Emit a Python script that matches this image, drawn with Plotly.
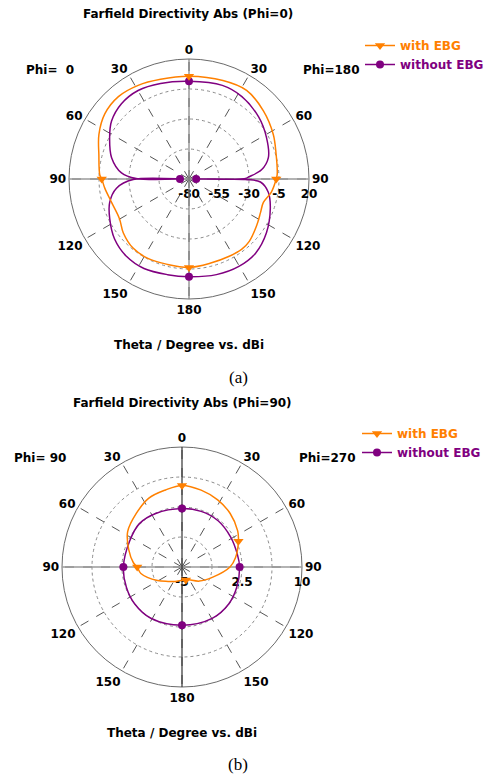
import numpy as np
import plotly.graph_objects as go

# ---------------- data (angles: clockwise from top; 0..180 right half, 180..360 left half) ----------
angle_ticks = [0, 30, 60, 90, 120, 150, 180, 210, 240, 270, 300, 330]
angle_labels = ["0", "30", "60", "90", "120", "150", "180", "150", "120", "90", "60", "30"]

# (a) Phi = 0 cut
a_ebg_theta = [0, 19, 33, 47.5, 62, 74, 87, 90, 99, 107.5, 115, 124.7, 136, 143, 152.5, 166, 180,
               194.2, 207.4, 219, 230.6, 240.3, 253.2, 263.8, 270, 272.6, 285.1, 296.4, 307.7,
               319.4, 331.5, 344.1, 360]
a_ebg_dbi = [5.6, 6.8, 8.1, 4.1, -0.5, -4.5, -6.4, -7.3, -10.5, -15.0, -14.2, -11.5, -7.7, -6.8,
             -7.4, -7.6, -6.3, -6.6, -5.5, -5.9, -9.2, -13.3, -12.6, -9.4, -7.3, -5.6, -2.2, 3.8,
             8.7, 10.4, 8.8, 6.4, 5.6]
a_noebg_theta = [0, 19.6, 32.7, 48.3, 61.7, 74.9, 82.8, 88, 89.4, 90, 90.6, 92.4, 99.5, 110, 124.8,
                 138.1, 150.3, 164, 180, 192.7, 206.7, 219, 231.1, 243.4, 253.6, 262.8, 269.4, 270,
                 270.6, 275.2, 285.4, 297.7, 306.8, 318.1, 330.1, 343.4, 360]
a_noebg_dbi = [1.4, 2.8, 1.6, -2.3, -6.7, -11.5, -19.1, -30.2, -33.0, -74.0, -33.0, -20.4, -13.0,
               -7.9, -1.4, 3.1, 3.9, 2.9, 1.4, 1.7, 3.5, 2.9, -0.3, -6.1, -11.1, -19.1, -33.5,
               -72.5, -36.0, -23.5, -13.1, -5.3, 0.6, 4.3, 5.1, 3.1, 1.4]
a_ebg_marker_theta = [0, 90, 180, 270]
a_noebg_marker_theta = [0, 90, 180, 270]
a_rtick_vals = [-80, -55, -30, -5, 20]
a_rtick_text = ["-80", "-55", "-30", "-5", "20"]

# (b) Phi = 90 cut
b_ebg_theta = [0, 14, 28, 42, 57, 65.5, 80, 90, 109, 129, 158, 180, 206, 224, 241, 261, 270, 275,
               288, 303, 319.5, 334.3, 347.9, 360]
b_ebg_dbi = [5.2, 4.9, 4.5, 4.0, 3.3, 2.75, 1.8, 1.0, -1.0, -2.2, -3.3, -3.35, -3.0, -2.5, -1.5,
             0.2, 0.6, 1.1, 2.0, 3.1, 3.8, 4.55, 4.85, 5.2]
b_noebg_theta = [0, 19, 38, 58.5, 77.4, 90, 110.6, 128.4, 149.6, 180, 211.3, 232.2, 250, 270,
                 296.1, 315.2, 333.8, 360]
b_noebg_dbi = [2.3, 2.35, 2.33, 2.14, 2.1, 2.2, 2.3, 2.45, 2.45, 2.28, 2.5, 2.5, 2.4, 2.33, 2.3,
               2.6, 2.45, 2.3]
b_ebg_marker_theta = [0, 65.5, 163, 270]
b_noebg_marker_theta = [0, 90, 180, 270]
b_rtick_vals = [-5, -1.25, 2.5, 6.25, 10]
b_rtick_text = ["-5", "", "2.5", "", "10"]

ORANGE = "#FF8000"
PURPLE = "#800080"
W, H = 489, 774
FONT = "DejaVu Sans"

fig = go.Figure()


def px_x(x):
    return x / W


def px_y(y):
    return 1 - y / H


def add_cut(subplot, legend, theta_e, dbi_e, theta_n, dbi_n, mk_e, mk_n, rmin, rmax, vcolor):
    # solid axis lines
    fig.add_trace(go.Scatterpolar(r=[rmax, rmax], theta=[90, 270], mode="lines",
                                  line=dict(color="#9a9a9a", width=1.6), showlegend=False,
                                  hoverinfo="skip", subplot=subplot))
    fig.add_trace(go.Scatterpolar(r=[rmax, rmax], theta=[0, 180], mode="lines",
                                  line=dict(color=vcolor, width=1.2), showlegend=False,
                                  hoverinfo="skip", subplot=subplot))
    # curves
    fig.add_trace(go.Scatterpolar(r=dbi_n, theta=theta_n, mode="lines",
                                  line=dict(color=PURPLE, width=1.5, shape="spline", smoothing=1.0),
                                  showlegend=False, hoverinfo="skip", subplot=subplot))
    fig.add_trace(go.Scatterpolar(r=dbi_e, theta=theta_e, mode="lines",
                                  line=dict(color=ORANGE, width=1.5, shape="spline", smoothing=1.0),
                                  showlegend=False, hoverinfo="skip", subplot=subplot))
    # markers placed on the curves
    fig.add_trace(go.Scatterpolar(r=np.interp(mk_n, theta_n, dbi_n), theta=mk_n, mode="markers",
                                  marker=dict(color=PURPLE, size=8, symbol="circle"),
                                  showlegend=False, hoverinfo="skip", subplot=subplot))
    fig.add_trace(go.Scatterpolar(r=np.interp(mk_e, theta_e, dbi_e), theta=mk_e, mode="markers",
                                  marker=dict(color=ORANGE, size=9, symbol="triangle-down"),
                                  showlegend=False, hoverinfo="skip", subplot=subplot))
    # legend entries
    fig.add_trace(go.Scatterpolar(r=[None], theta=[None], mode="lines+markers",
                                  name="<b><span style='color:%s'>with EBG</span></b>" % ORANGE,
                                  line=dict(color=ORANGE, width=1.5),
                                  marker=dict(color=ORANGE, size=9, symbol="triangle-down"),
                                  legend=legend, legendrank=1, subplot=subplot))
    fig.add_trace(go.Scatterpolar(r=[None], theta=[None], mode="lines+markers",
                                  name="<b><span style='color:%s'>without EBG</span></b>" % PURPLE,
                                  line=dict(color=PURPLE, width=1.5),
                                  marker=dict(color=PURPLE, size=8, symbol="circle"),
                                  legend=legend, legendrank=2, subplot=subplot))


add_cut("polar", "legend", a_ebg_theta, a_ebg_dbi, a_noebg_theta, a_noebg_dbi,
        a_ebg_marker_theta, a_noebg_marker_theta, -80, 20, "#808080")
add_cut("polar2", "legend2", b_ebg_theta, b_ebg_dbi, b_noebg_theta, b_noebg_dbi,
        b_ebg_marker_theta, b_noebg_marker_theta, -5, 10, "#333333")


def polar_layout(cx, cy, rad, rng, tvals, ttext):
    return dict(
        domain=dict(x=[px_x(cx - rad), px_x(cx + rad)], y=[px_y(cy + rad), px_y(cy - rad)]),
        bgcolor="white",
        angularaxis=dict(rotation=90, direction="clockwise", tickmode="array",
                         tickvals=angle_ticks, ticktext=angle_labels, ticks="",
                         tickfont=dict(family=FONT, size=12, color="black", weight="bold"),
                         showgrid=True, gridcolor="#555555", gridwidth=0.8, griddash="dash",
                         showline=True, linecolor="#6a6a6a", linewidth=1, layer="below traces"),
        radialaxis=dict(range=rng, tickmode="array", tickvals=tvals, ticktext=ttext,
                        ticks="outside", ticklen=4, tickcolor="rgba(0,0,0,0)",
                        angle=0, side="clockwise", showline=False,
                        tickfont=dict(family=FONT, size=12, color="black", weight="bold"),
                        showgrid=True, gridcolor="#8a8a8a", gridwidth=0.9, griddash="dot",
                        layer="below traces"),
    )


annotations = []


def txt(x, y, s, size=12, family=FONT, bold=True):
    annotations.append(dict(x=px_x(x), y=px_y(y), xref="paper", yref="paper",
                            text=("<b>%s</b>" % s) if bold else s, showarrow=False,
                            xanchor="center", yanchor="middle",
                            font=dict(family=family, size=size, color="black")))


# (a) texts
txt(188, 14, "Farfield Directivity Abs (Phi=0)")
txt(50, 70, "Phi=\u00a0\u00a00")
txt(331, 70, "Phi=180")
txt(189, 345, "Theta / Degree vs. dBi")
txt(238, 377, "(a)", size=17, family="Liberation Serif", bold=False)
# (b) texts
txt(182, 403, "Farfield Directivity Abs (Phi=90)")
txt(40, 458, "Phi=\u00a090")
txt(327, 458, "Phi=270")
txt(182, 733, "Theta / Degree vs. dBi")
txt(238, 764, "(b)", size=17, family="Liberation Serif", bold=False)

legend_style = dict(xanchor="left", yanchor="top", bgcolor="rgba(0,0,0,0)",
                    font=dict(family=FONT, size=12), itemwidth=30, tracegroupgap=0)

fig.update_layout(
    width=W, height=H, autosize=False,
    margin=dict(l=0, r=0, t=0, b=0, autoexpand=False),
    paper_bgcolor="white", plot_bgcolor="white",
    polar=polar_layout(189, 179, 120, [-80, 20], a_rtick_vals, a_rtick_text),
    polar2=polar_layout(182, 567, 120, [-5, 10], b_rtick_vals, b_rtick_text),
    legend=dict(x=px_x(360), y=px_y(31), **legend_style),
    legend2=dict(x=px_x(357), y=px_y(419), **legend_style),
    annotations=annotations,
    showlegend=True,
)

fig.write_html("out.html", config={"displayModeBar": False},
               post_script="document.body.style.margin='0px';document.body.style.overflow='hidden';")
